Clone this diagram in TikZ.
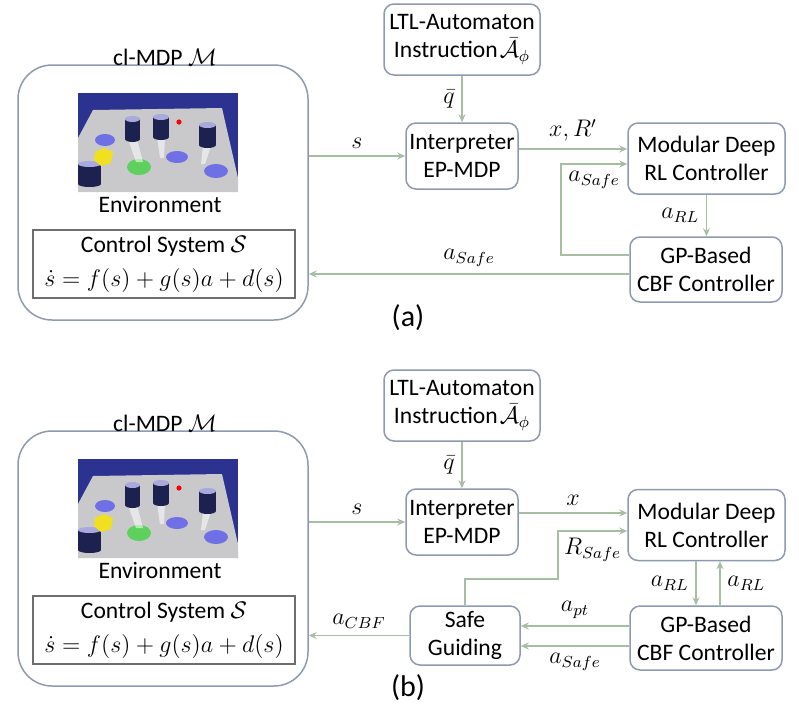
\documentclass[tikz,border=0pt]{standalone}
\usepackage{fontspec}
\setmainfont{Carlito}
\usepackage{amsmath}
\usepackage{amssymb}
\usetikzlibrary{calc, arrows.meta, positioning}

\definecolor{boxline}{HTML}{8E9AB0}
\definecolor{ctrlline}{HTML}{6E6E6E}
\definecolor{flow}{HTML}{A8BEA2}
\definecolor{scenebg}{HTML}{2C3290}
\definecolor{plane}{HTML}{C9C9CC}
\definecolor{cylbody}{HTML}{1D2150}
\definecolor{cyltop}{HTML}{A9A9DE}
\definecolor{disc}{HTML}{7070E6}
\definecolor{goal}{HTML}{5DD05D}
\definecolor{agent}{HTML}{F0E020}

\tikzset{
  block/.style={draw=boxline, line width=0.75pt, rounded corners=5pt, align=center, inner sep=1pt},
  mdpbox/.style={draw=boxline, line width=0.75pt, rounded corners=17pt,
    minimum width=145pt, minimum height=127.5pt},
  ctrlbox/.style={draw=ctrlline, line width=0.75pt, align=center,
    minimum width=131pt, minimum height=34pt, inner sep=1pt},
  flowline/.style={draw=flow, line width=0.75pt, ->},
}

\begin{document}
\begin{tikzpicture}[x=0.5pt, y=-0.5pt, >={Stealth[length=4pt, width=3.5pt]},
    font=\fontsize{11.8}{14}\selectfont]
    \useasboundingbox (0,0) rectangle (799,719);

    % --- Environment scenes ---
    \foreach \dy in {0,366} {
      \begin{scope}[shift={(0,\dy)}]
        \fill[scenebg] (78,93) rectangle (238,192);
        \fill[plane] (78,192) -- (78,138) -- (93,110) -- (222,108) -- (238,178) -- (238,192) -- cycle;
        \fill[disc] (105,140) circle [x radius=10, y radius=6];
        \fill[disc] (177,157) circle [x radius=11, y radius=6];
        \fill[disc] (216,171) circle [x radius=12, y radius=7];
        \fill[goal] (139,167) circle [x radius=12, y radius=8];
        \fill[white, opacity=0.55] (128,139) -- (137,139) -- (143,162) -- (136,162) -- cycle;
        \fill[white, opacity=0.55] (157,137) -- (165,137) -- (164,158) -- (160,158) -- cycle;
        \fill[white, opacity=0.55] (203,146) -- (211,146) -- (205,164) -- (201,164) -- cycle;
        \foreach \cx/\cy/\cw in {132.5/119/7.5, 161/117/8, 207.5/125/8.5, 89.5/164/11.5} {
          \fill[cylbody] (\cx-\cw,\cy) rectangle (\cx+\cw,\cy+20);
          \fill[cylbody] (\cx,\cy+20) circle [x radius=\cw, y radius=3];
          \fill[cyltop] (\cx,\cy) circle [x radius=\cw, y radius=3];
        }
        \fill[agent] (95,152) -- (104,148) -- (113,152) -- (111,163) -- (101,166) -- (94,160) -- cycle;
        \fill[red] (179,122) circle (1.3pt);
      \end{scope}
    }

    % --- Panel (a) ---
    \node[mdpbox] (mdpA) at (163,192.5) {};
    \node (mdpAlabel) at (165,57) {cl-MDP $\mathcal{M}$};
    \node (envA) at (160,204) {Environment};
    \node[ctrlbox] (ctrlA) at (164,264) {Control System $\mathcal{S}$\\[3pt]
      {\fontsize{12.5}{15}\selectfont $\dot{s}=f(s)+g(s)a+d(s)$}};

    \node[block, minimum width=78pt, minimum height=35.5pt] (ltlA) at (462,39.5)
      {LTL-Automaton\\Instruction\kern1pt$\bar{\mathcal{A}}_{\phi}$};
    \node[block, minimum width=56pt, minimum height=33pt] (intA) at (462,156)
      {Interpreter\\EP-MDP};
    \node[block, minimum width=78.5pt, minimum height=35.5pt] (modA) at (706.5,158.5)
      {Modular Deep\\RL Controller};
    \node[block, minimum width=76pt, minimum height=32.5pt] (gpA) at (706,269.5)
      {GP-Based\\CBF Controller};

    \coordinate (xRA) at ([yshift=3.5pt]intA.east);
    \coordinate (turnA) at (561,164);

    \draw[flowline] (ltlA) -- (intA) node[midway, left] {$\bar{q}$};
    \draw[flowline] (mdpA.east |- intA.west) -- (intA.west)
      node[midway, above] {$s$};
    \draw[flowline] (xRA) -- (xRA -| modA.west)
      node[midway, above] {$x, R'$};
    \draw[flowline] ([yshift=7.25pt]gpA.west) -| (turnA) -- (turnA -| modA.west)
      node[midway, below] {$a_{Safe}$};
    \draw[flowline] (modA.south) -- (modA.south |- gpA.north)
      node[midway, left] {$a_{RL}$};
    \draw[flowline] ([yshift=-2.25pt]gpA.west) -- ([yshift=-2.25pt]gpA.west -| mdpA.east)
      node[midway, above] {$a_{Safe}$};

    \node[font=\fontsize{15}{18}\selectfont] (capA) at (408,318) {(a)};

    % --- Panel (b) ---
    \node[mdpbox] (mdpB) at (163,558.5) {};
    \node (mdpBlabel) at (165,423) {cl-MDP $\mathcal{M}$};
    \node (envB) at (160,570) {Environment};
    \node[ctrlbox] (ctrlB) at (164,630) {Control System $\mathcal{S}$\\[3pt]
      {\fontsize{12.5}{15}\selectfont $\dot{s}=f(s)+g(s)a+d(s)$}};

    \node[block, minimum width=78pt, minimum height=35.5pt] (ltlB) at (462,405.5)
      {LTL-Automaton\\Instruction\kern1pt$\bar{\mathcal{A}}_{\phi}$};
    \node[block, minimum width=56pt, minimum height=33pt] (intB) at (462,522)
      {Interpreter\\EP-MDP};
    \node[block, minimum width=78.5pt, minimum height=35.5pt] (modB) at (706.5,525)
      {Modular Deep\\RL Controller};
    \node[block, minimum width=55pt, minimum height=29.5pt] (safeB) at (465,635.5)
      {Safe\\Guiding};
    \node[block, minimum width=76pt, minimum height=32pt] (gpB) at (706,638)
      {GP-Based\\CBF Controller};

    \coordinate (xB) at ([yshift=4.5pt]intB.east);
    \coordinate (turnB) at (558,579);

    \draw[flowline] (ltlB) -- (intB) node[midway, left] {$\bar{q}$};
    \draw[flowline] (mdpB.east |- intB.west) -- (intB.west)
      node[midway, above] {$s$};
    \draw[flowline] (xB) -- (xB -| modB.west)
      node[midway, above] {$x$};
    \draw[flowline] (safeB.north) |- (turnB) |- ([yshift=-3pt]modB.west)
      node[pos=0.75, below] {$R_{Safe}$};
    \draw[flowline] ([xshift=-5.25pt]modB.south) -- ([xshift=-5.25pt]modB.south |- gpB.north)
      node[midway, left] {$a_{RL}$};
    \draw[flowline] ([xshift=6.75pt]modB.south |- gpB.north) -- ([xshift=6.75pt]modB.south)
      node[midway, right] {$a_{RL}$};
    \draw[flowline] ([yshift=6pt]gpB.west) -- ([yshift=6pt]gpB.west -| safeB.east)
      node[midway, above] {$a_{pt}$};
    \draw[flowline] ([yshift=-4pt]gpB.west) -- ([yshift=-4pt]gpB.west -| safeB.east)
      node[midway, below] {$a_{Safe}$};
    \draw[flowline] (safeB.west) -- (safeB.west -| mdpB.east)
      node[midway, above] {$a_{CBF}$};

    \node[font=\fontsize{15}{18}\selectfont] (capB) at (408,688) {(b)};
\end{tikzpicture}
\end{document}
